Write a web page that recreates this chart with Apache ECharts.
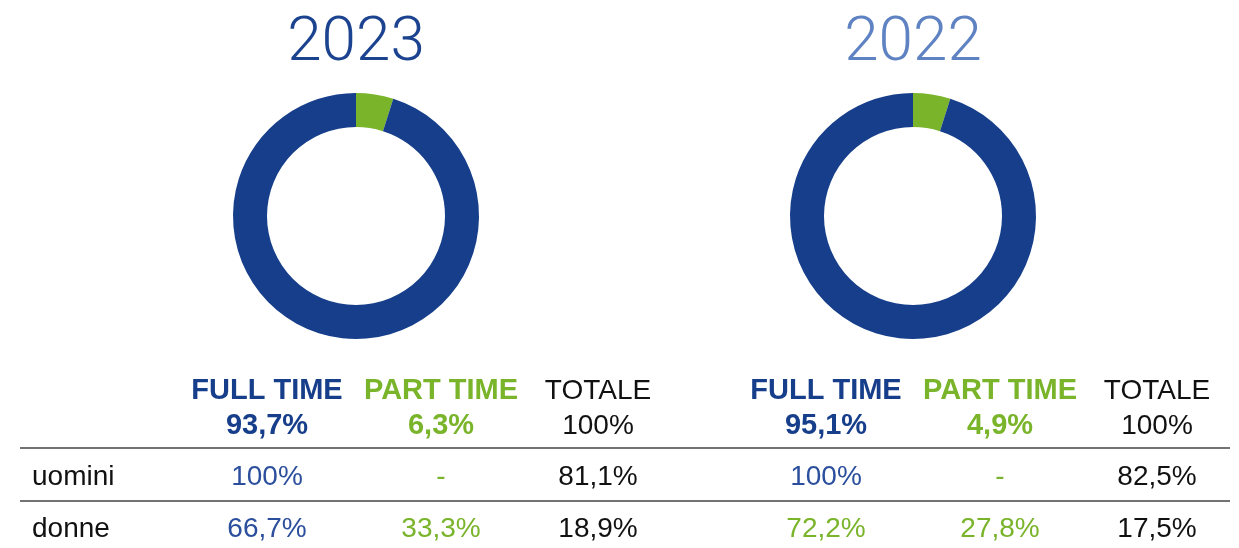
<!DOCTYPE html>
<html>
<head>
<meta charset="utf-8">
<script src="https://cdn.jsdelivr.net/npm/echarts@6/dist/echarts.min.js"></script>
<style>
  html, body { margin: 0; padding: 0; background: #fff; }
  #chart { width: 1239px; height: 548px; }
</style>
</head>
<body>
<div id="chart"></div>
<script>
// data
const years = ['2023', '2022']
const fullTime = [93.7, 95.1]
const partTime = [6.3, 4.9]
const totale = [100, 100]
// slice shares as drawn in the source rings (both rings show the same ~4.9% wedge)
const ringPartTime = [4.9, 4.9]
const ringFullTime = [95.1, 95.1]
const headers = ['FULL TIME', 'PART TIME', 'TOTALE']
const rowLabels = ['uomini', 'donne']
const fullTimeRows = [['100%', '66,7%'], ['100%', '72,2%']]
const partTimeRows = [['-', '33,3%'], ['-', '27,8%']]
const totaleRows = [['81,1%', '18,9%'], ['82,5%', '17,5%']]

const BLUE = '#163e8a'
const BLUE_TXT = '#2b4f9c'
const GREEN = '#79b42a'
const TITLE_COLORS = ['#1c438f', '#5f83c2']
const FONT = '"Liberation Sans", Arial, sans-serif'

// layout
const pieX = [356, 913]
const colX = [[267, 441, 598], [826, 1000, 1157]]
const rowY = { head: 391, total: 426, rows: [477, 529] }
// the 2022 donne full-time cell is green in the source
const fullTimeCellColors = [[BLUE_TXT, BLUE_TXT], [BLUE_TXT, GREEN]]

const fmt = (v) => (v === 100 ? '100' : v.toFixed(1).replace('.', ',')) + '%'

const txt = (text, x, y, color, size, weight, align) => ({
  type: 'text',
  style: {
    text, x, y,
    fill: color,
    font: `${weight || 'normal'} ${size}px ${FONT}`,
    textAlign: align || 'center',
    textVerticalAlign: 'middle',
  },
})

const buildGraphic = () => {
  const els = []
  years.forEach((yr, i) => {
    els.push({
      type: 'text',
      style: {
        text: yr, x: pieX[i], y: 44,
        fill: TITLE_COLORS[i],
        font: `300 62px Roboto, ${FONT}`,
        textAlign: 'center', textVerticalAlign: 'middle',
      },
    })
    const cx = colX[i]
    els.push(txt(headers[0], cx[0], rowY.head, BLUE, 29, 'bold'))
    els.push(txt(headers[1], cx[1], rowY.head, GREEN, 29, 'bold'))
    els.push(txt(headers[2], cx[2], rowY.head, '#111', 28))
    els.push(txt(fmt(fullTime[i]), cx[0], rowY.total, BLUE, 29, 'bold'))
    els.push(txt(fmt(partTime[i]), cx[1], rowY.total, GREEN, 29, 'bold'))
    els.push(txt(fmt(totale[i]), cx[2], rowY.total, '#111', 28))
    rowLabels.forEach((lab, r) => {
      const y = rowY.rows[r]
      if (i === 0) els.push(txt(lab, 32, y, '#111', 28, 'normal', 'left'))
      els.push(txt(fullTimeRows[i][r], cx[0], y, fullTimeCellColors[i][r], 28))
      els.push(txt(partTimeRows[i][r], cx[1], y, GREEN, 28))
      els.push(txt(totaleRows[i][r], cx[2], y, '#111', 28))
    })
  })
  ;[448, 501].forEach((y) => {
    els.push({
      type: 'line',
      shape: { x1: 20, y1: y, x2: 1230, y2: y },
      style: { stroke: '#444', lineWidth: 1.4 },
    })
  })
  return els
}

const chart = echarts.init(document.getElementById('chart'), null, { renderer: 'canvas' })
chart.setOption({
  backgroundColor: '#fff',
  animation: false,
  series: years.map((yr, i) => ({
    type: 'pie',
    name: yr,
    center: [pieX[i], 216],
    radius: [89, 123],
    startAngle: 90,
    clockwise: true,
    label: { show: false },
    labelLine: { show: false },
    emphasis: { disabled: true },
    itemStyle: { borderWidth: 0 },
    data: [
      { name: 'PART TIME', value: ringPartTime[i], itemStyle: { color: GREEN } },
      { name: 'FULL TIME', value: ringFullTime[i], itemStyle: { color: BLUE } },
    ],
  })),
  graphic: buildGraphic(),
})
</script>
</body>
</html>
